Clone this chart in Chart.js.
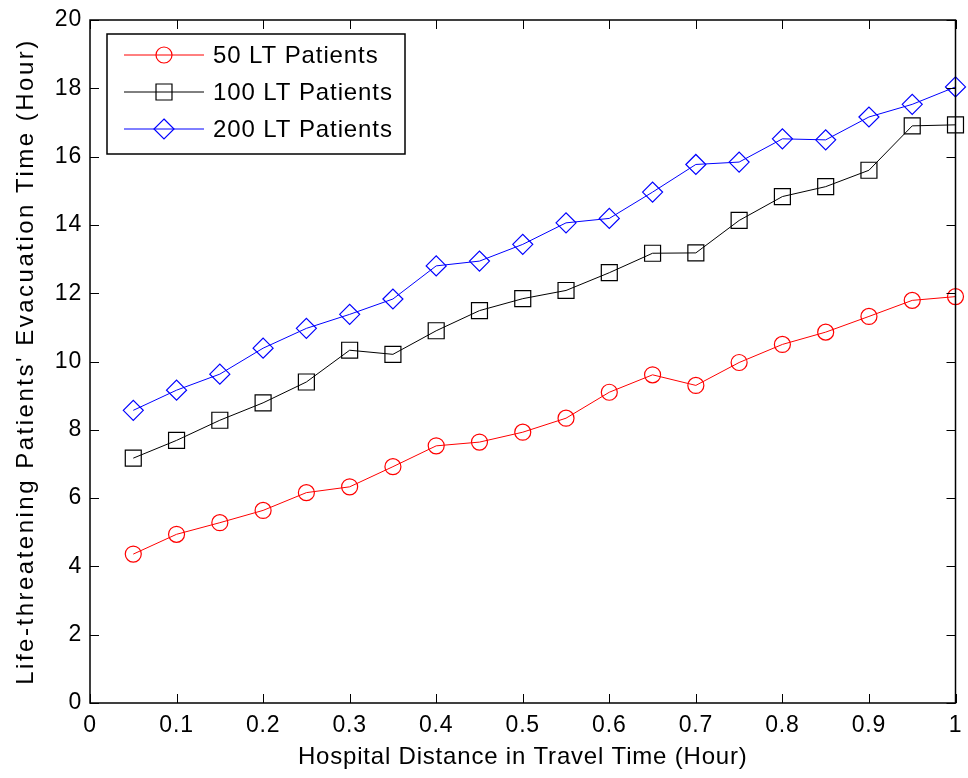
<!DOCTYPE html>
<html>
<head>
<meta charset="utf-8">
<title>LT Patients Evacuation Time</title>
<script src="https://cdn.jsdelivr.net/npm/chart.js@4.4.1/dist/chart.umd.min.js"></script>
<style>
  html, body { margin: 0; padding: 0; background: #fff; }
  #wrap { width: 968px; height: 778px; }
</style>
</head>
<body>
<div id="wrap"><canvas id="chart" width="968" height="778"></canvas></div>
<script>
// travel time (hour)
const travelTime = [0.05, 0.1, 0.15, 0.2, 0.25, 0.3, 0.35, 0.4, 0.45, 0.5,
  0.55, 0.6, 0.65, 0.7, 0.75, 0.8, 0.85, 0.9, 0.95, 1.0];

// evacuation time (hour) per scenario
const lt50 = [4.36, 4.94, 5.28, 5.64, 6.16, 6.33, 6.92, 7.53, 7.64, 7.93,
  8.34, 9.10, 9.61, 9.30, 9.97, 10.50, 10.86, 11.32, 11.79, 11.90];
const lt100 = [7.17, 7.69, 8.28, 8.79, 9.40, 10.33, 10.21, 10.90, 11.49, 11.84,
  12.08, 12.60, 13.17, 13.18, 14.13, 14.83, 15.12, 15.60, 16.90, 16.93];
const lt200 = [8.57, 9.16, 9.63, 10.39, 10.97, 11.38, 11.83, 12.80, 12.94, 13.43,
  14.06, 14.19, 14.96, 15.77, 15.84, 16.52, 16.49, 17.16, 17.53, 18.04];

const seriesLabels = ['50 LT Patients', '100 LT Patients', '200 LT Patients'];
const yTitle = "Life-threatening Patients' Evacuation Time (Hour)";
const xTitle = 'Hospital Distance in Travel Time (Hour)';

const FONT = "'Liberation Sans', Arial, Helvetica, sans-serif";

const toPoints = (ys) => ys.map((y, i) => ({ x: travelTime[i], y: y }));

const makeSet = (label, values, color, style, radius) => ({
  label: label,
  data: toPoints(values),
  borderColor: color,
  backgroundColor: 'transparent',
  borderWidth: 1,
  pointStyle: style,
  pointRadius: radius,
  pointHoverRadius: radius,
  pointBorderColor: color,
  pointBackgroundColor: 'transparent',
  pointBorderWidth: 1.2,
  tension: 0,
  fill: false,
  clip: false
});

// simple marker drawing for the legend
function drawMarker(ctx, style, radius, x, y) {
  ctx.beginPath();
  if (style === 'circle') {
    ctx.arc(x, y, radius, 0, Math.PI * 2);
  } else if (style === 'rect') {
    const s = radius * Math.SQRT1_2;
    ctx.rect(x - s, y - s, 2 * s, 2 * s);
  } else if (style === 'rectRot') {
    ctx.moveTo(x, y - radius);
    ctx.lineTo(x + radius, y);
    ctx.lineTo(x, y + radius);
    ctx.lineTo(x - radius, y);
    ctx.closePath();
  }
  ctx.stroke();
}

// the original text is a little wider than Liberation Sans
const spacing = {
  id: 'spacing',
  beforeDraw(chart) {
    chart.ctx.letterSpacing = '0.8px';
  }
};

// MATLAB-like box with inward ticks on all four sides, plus y title
const frameTicks = {
  id: 'frameTicks',
  afterDatasetsDraw(chart) {
    const { ctx, chartArea: a, scales } = chart;
    const len = 9;
    ctx.save();
    ctx.strokeStyle = '#000';
    ctx.lineWidth = 1;
    ctx.beginPath();
    scales.x.ticks.forEach((t) => {
      const px = Math.round(scales.x.getPixelForValue(t.value)) + 0.5;
      ctx.moveTo(px, a.bottom); ctx.lineTo(px, a.bottom - len);
      ctx.moveTo(px, a.top); ctx.lineTo(px, a.top + len);
    });
    scales.y.ticks.forEach((t) => {
      const py = Math.round(scales.y.getPixelForValue(t.value)) + 0.5;
      ctx.moveTo(a.left, py); ctx.lineTo(a.left + len, py);
      ctx.moveTo(a.right, py); ctx.lineTo(a.right - len, py);
    });
    ctx.stroke();
    ctx.lineWidth = 1.5;
    ctx.strokeRect(a.left, a.top, a.right - a.left, a.bottom - a.top);

    // y axis title, stretched like the original
    ctx.translate(26, (a.top + a.bottom) / 2);
    ctx.rotate(-Math.PI / 2);
    ctx.font = '24px ' + FONT;
    ctx.letterSpacing = '2.5px';
    ctx.fillStyle = '#000';
    ctx.textAlign = 'center';
    ctx.textBaseline = 'middle';
    ctx.fillText(yTitle, 0, 0);
    ctx.restore();
  }
};

// legend box in the upper left of the plot
const boxLegend = {
  id: 'boxLegend',
  afterDraw(chart) {
    const { ctx, chartArea: a } = chart;
    const x0 = a.left + 17, y0 = a.top + 14, w = 298, h = 120;
    ctx.save();
    ctx.fillStyle = '#fff';
    ctx.fillRect(x0, y0, w, h);
    ctx.strokeStyle = '#000';
    ctx.lineWidth = 1.5;
    ctx.strokeRect(x0, y0, w, h);
    ctx.font = '24px ' + FONT;
    ctx.letterSpacing = '0.9px';
    ctx.textBaseline = 'middle';
    ctx.textAlign = 'left';
    chart.data.datasets.forEach((ds, i) => {
      const y = y0 + 21 + i * 37;
      ctx.strokeStyle = ds.borderColor;
      ctx.lineWidth = 1;
      ctx.beginPath();
      ctx.moveTo(x0 + 17, y);
      ctx.lineTo(x0 + 97, y);
      ctx.stroke();
      ctx.lineWidth = 1.2;
      drawMarker(ctx, ds.pointStyle, ds.pointRadius, x0 + 57, y);
      ctx.fillStyle = '#000';
      ctx.fillText(ds.label, x0 + 106, y + 1);
    });
    ctx.restore();
  }
};

const evacChart = new Chart(document.getElementById('chart'), {
  type: 'line',
  data: {
    datasets: [
      makeSet(seriesLabels[0], lt50, '#ff0000', 'circle', 8),
      makeSet(seriesLabels[1], lt100, '#000000', 'rect', 11.3),
      makeSet(seriesLabels[2], lt200, '#0000ff', 'rectRot', 10)
    ]
  },
  options: {
    responsive: false,
    animation: false,
    events: [],
    layout: {
      padding: { top: 20, right: 10, left: 0, bottom: 0 }
    },
    plugins: {
      legend: { display: false },
      tooltip: { enabled: false }
    },
    scales: {
      x: {
        type: 'linear',
        min: 0,
        max: 1,
        afterFit: (scale) => {
          scale.height = 75;
          scale.paddingLeft = 0;
          scale.paddingRight = 0;
        },
        border: { display: false },
        grid: { display: false, drawTicks: false },
        ticks: {
          stepSize: 0.1,
          color: '#000',
          padding: 9,
          maxRotation: 0,
          font: { family: FONT, size: 23 },
          callback: (v) => String(Math.round(v * 10) / 10)
        },
        title: {
          display: true,
          text: xTitle,
          color: '#000',
          font: { family: FONT, size: 24 },
          padding: { top: 0, bottom: 6 }
        }
      },
      y: {
        min: 0,
        max: 20,
        afterFit: (scale) => {
          scale.width = 90;
          scale.paddingTop = 0;
          scale.paddingBottom = 0;
        },
        border: { display: false },
        grid: { display: false, drawTicks: false },
        ticks: {
          stepSize: 2,
          color: '#000',
          padding: 8,
          font: { family: FONT, size: 23 }
        },
        title: { display: false }
      }
    }
  },
  plugins: [spacing, frameTicks, boxLegend]
});
</script>
</body>
</html>
